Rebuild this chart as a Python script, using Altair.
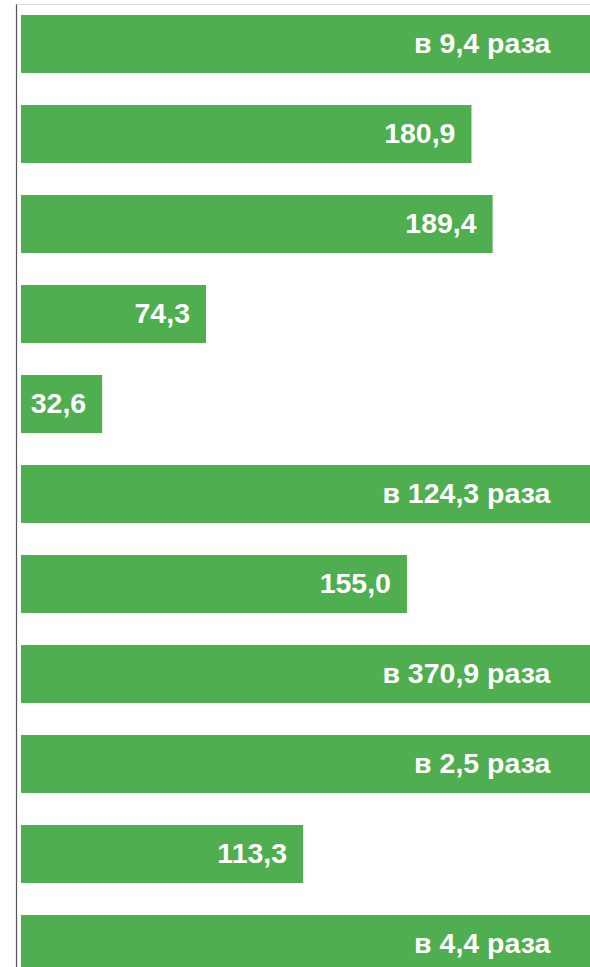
import altair as alt
import pandas as pd

categories = ["1", "2", "3", "4", "5", "6", "7", "8", "9", "10", "11"]
values = [940.0, 180.9, 189.4, 74.3, 32.6, 12430.0, 155.0, 37090.0, 250.0, 113.3, 440.0]
labels = ["в 9,4 раза", "180,9", "189,4", "74,3", "32,6", "в 124,3 раза",
          "155,0", "в 370,9 раза", "в 2,5 раза", "113,3", "в 4,4 раза"]

df = pd.DataFrame({"cat": categories, "value": values, "label": labels})

X_MIN, X_MAX = -2.0, 228.5
LABEL_CAP = 219.0

y_enc = alt.Y(
    "cat:N",
    sort=categories,
    scale=alt.Scale(range=[0, 980], paddingInner=0.3556, paddingOuter=0.1222),
    axis=alt.Axis(labels=False, ticks=False, title=None, domain=True,
                  domainColor="#555555", domainWidth=1.2, grid=False),
)

x_scale = alt.Scale(domain=[X_MIN, X_MAX], zero=False, nice=False)

bars = alt.Chart(df).mark_bar(color="#4FAE4F", clip=True).encode(
    x=alt.X("value:Q", scale=x_scale, axis=None),
    x2=alt.datum(0),
    y=y_enc,
)

text = alt.Chart(df).transform_calculate(
    lx=f"datum.value > {X_MAX} ? {LABEL_CAP} : datum.value"
).mark_text(
    align="right", baseline="middle", dx=-16, color="white",
    font="Liberation Sans", fontWeight="bold", fontSize=28.5, clip=True,
).encode(
    x=alt.X("lx:Q", scale=x_scale, axis=None),
    y=alt.Y("cat:N", sort=categories),
    text="label:N",
)

chart = (bars + text).properties(
    width=574, height=963,
    autosize=alt.AutoSizeParams(type="none"),
    padding={"left": 16, "top": 4, "right": 0, "bottom": 0},
).configure_view(stroke=None).configure(background="white")

chart.save("out.html", embed_options={"renderer": "svg", "actions": False})
